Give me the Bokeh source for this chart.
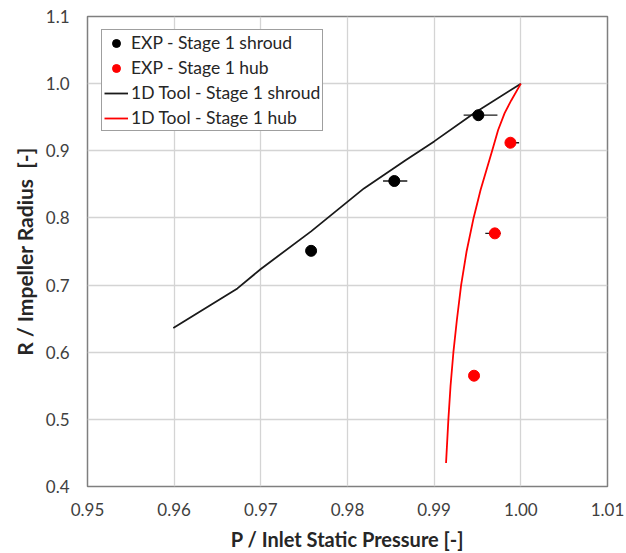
from bokeh.plotting import figure
from bokeh.models import Range1d, FixedTicker, NumeralTickFormatter, Legend, LegendItem
from bokeh.embed import file_html
from bokeh.resources import INLINE

# ---- data ----
x_ticks = [0.95, 0.96, 0.97, 0.98, 0.99, 1.00, 1.01]
y_ticks = [0.4, 0.5, 0.6, 0.7, 0.8, 0.9, 1.0, 1.1]

shroud_exp_p = [0.9758, 0.9854, 0.9951]
shroud_exp_r = [0.751, 0.855, 0.953]
shroud_exp_p_lo = [0.9753, 0.9841, 0.9934]
shroud_exp_p_hi = [0.9763, 0.9869, 0.9973]

hub_exp_p = [0.9946, 0.9970, 0.9988]
hub_exp_r = [0.565, 0.777, 0.912]
hub_exp_p_lo = [0.9941, 0.9959, 0.9982]
hub_exp_p_hi = [0.9951, 0.9977, 0.9998]

shroud_tool_p = [0.9599, 0.9673, 0.9700, 0.9758, 0.9819, 0.9867, 0.9900, 0.9946, 1.0000]
shroud_tool_r = [0.636, 0.695, 0.724, 0.780, 0.844, 0.886, 0.914, 0.956, 1.000]

hub_tool_p = [0.99137, 0.99164, 0.99189, 0.99222, 0.99262, 0.99311, 0.99374, 0.99455,
              0.99536, 0.99669, 0.99738, 0.99813, 0.99889, 1.00000]
hub_tool_r = [0.435, 0.500, 0.550, 0.600, 0.648, 0.700, 0.750, 0.800,
              0.842, 0.900, 0.931, 0.956, 0.975, 1.000]

FONT = "Lato"

p = figure(width=626, height=553, output_backend="svg", toolbar_location=None,
           x_range=Range1d(0.95, 1.01), y_range=Range1d(0.4, 1.1),
           min_border_left=87, min_border_right=19, min_border_top=16, min_border_bottom=66)
p.background_fill_color = "white"
p.border_fill_color = "white"
p.outline_line_color = "#7f7f7f"
p.outline_line_width = 1.5

for ax in (p.xaxis, p.yaxis):
    ax.major_tick_in = 0
    ax.major_tick_out = 0
    ax.minor_tick_in = 0
    ax.minor_tick_out = 0
    ax.axis_line_color = None
    ax.major_label_text_font = FONT
    ax.major_label_text_font_size = "17px"
    ax.major_label_text_color = "#404040"
    ax.axis_label_text_font = FONT
    ax.axis_label_text_font_style = "bold"
    ax.axis_label_text_color = "#262626"

p.xaxis.axis_label_text_font_size = "20px"
p.yaxis.axis_label_text_font_size = "21px"
p.xaxis.ticker = FixedTicker(ticks=x_ticks)
p.yaxis.ticker = FixedTicker(ticks=y_ticks)
p.xaxis.formatter = NumeralTickFormatter(format="0.00")
p.yaxis.formatter = NumeralTickFormatter(format="0.0")
p.xaxis.major_label_standoff = 16
p.yaxis.major_label_standoff = 18
p.xaxis.axis_label = "P / Inlet Static Pressure [-]"
p.yaxis.axis_label = "R / Impeller Radius\u00a0\u00a0[-]"
p.xaxis.axis_label_standoff = 8
p.yaxis.axis_label_standoff = 6

p.xgrid.grid_line_color = "#d4d4d4"
p.ygrid.grid_line_color = "#d4d4d4"
p.xgrid.grid_line_width = 1.3
p.ygrid.grid_line_width = 1.3

# lines
l_shroud = p.line(shroud_tool_p, shroud_tool_r, line_color="#1a1a1a", line_width=1.8)
l_hub = p.line(hub_tool_p, hub_tool_r, line_color="#ff0000", line_width=1.8)

# error bars
p.segment(x0=shroud_exp_p_lo, x1=shroud_exp_p_hi, y0=shroud_exp_r, y1=shroud_exp_r,
          line_color="#1a1a1a", line_width=1.3)
p.segment(x0=hub_exp_p_lo, x1=hub_exp_p_hi, y0=hub_exp_r, y1=hub_exp_r,
          line_color="#1a1a1a", line_width=1.3)

# points
s_shroud = p.scatter(shroud_exp_p, shroud_exp_r, size=11, fill_color="black", line_color="black")
s_hub = p.scatter(hub_exp_p, hub_exp_r, size=11, fill_color="#ff0000", line_color="#ff0000")

legend = Legend(items=[
    LegendItem(label="EXP - Stage 1 shroud", renderers=[s_shroud]),
    LegendItem(label="EXP - Stage 1 hub", renderers=[s_hub]),
    LegendItem(label="1D Tool - Stage 1 shroud", renderers=[l_shroud]),
    LegendItem(label="1D Tool - Stage 1 hub", renderers=[l_hub]),
], location=(14, 355))
legend.label_text_font = FONT
legend.label_text_font_size = "17.5px"
legend.label_text_color = "#262626"
legend.label_standoff = 3
legend.label_height = 20
legend.glyph_height = 20
legend.glyph_width = 24
legend.spacing = 4
legend.padding = 2
legend.margin = 0
legend.border_line_color = "#404040"
legend.border_line_width = 1.2
legend.background_fill_alpha = 1.0
p.add_layout(legend)

open("out.html", "w").write(file_html(p, INLINE))
